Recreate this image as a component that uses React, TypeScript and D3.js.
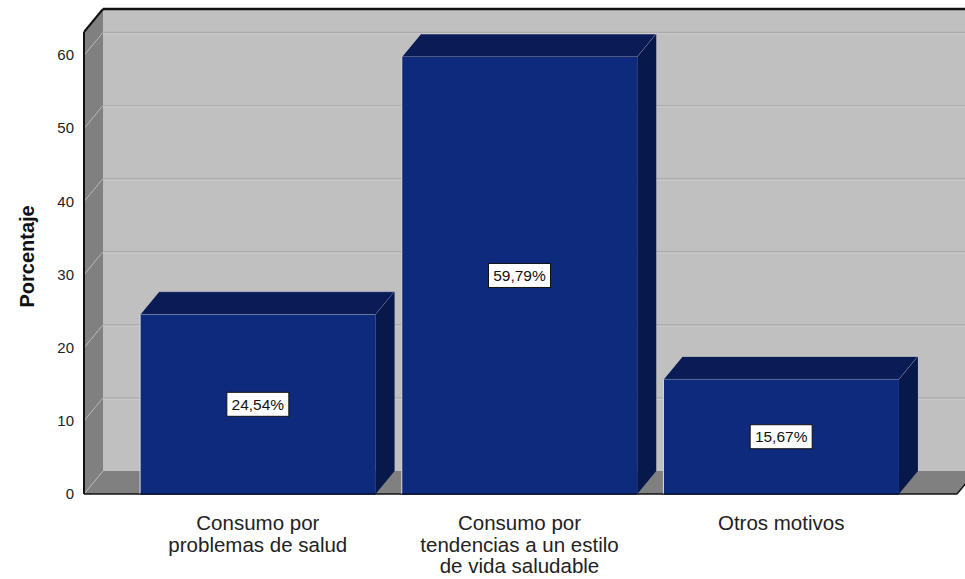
import React from "react";
import * as d3 from "d3";

const categories = [
  ["Consumo por", "problemas de salud"],
  ["Consumo por", "tendencias a un estilo", "de vida saludable"],
  ["Otros motivos"],
];
const values = [24.54, 59.79, 15.67];
const valueLabels = ["24,54%", "59,79%", "15,67%"];
const yTicks = [0, 10, 20, 30, 40, 50, 60];
const yTitle = "Porcentaje";

const W = 965;
const H = 579;
const DX = 19;
const DY = -23;
const FRONT_LEFT = 84;
const FRONT_RIGHT = 957;
const BASE = 494;

export default function App() {
  const y = d3.scaleLinear().domain([0, 63.2]).range([BASE, 32]);
  const keys = categories.map((c) => c.join(" "));
  const x = d3
    .scaleBand<string>()
    .domain(keys)
    .range([127, 912])
    .paddingInner(0.1)
    .paddingOuter(0.05);
  const bw = x.bandwidth();
  const top = y(63.2);
  const font = "'Liberation Sans', Arial, sans-serif";

  return (
    <svg
      width={W}
      height={H}
      style={{ position: "absolute", left: 0, top: 0, background: "#fff" }}
      fontFamily={font}
    >
      {/* back wall */}
      <rect
        x={FRONT_LEFT + DX}
        y={top + DY}
        width={FRONT_RIGHT - FRONT_LEFT + 10}
        height={BASE - top}
        fill="#c0c0c0"
      />
      {/* left wall */}
      <polygon
        points={`${FRONT_LEFT},${top} ${FRONT_LEFT + DX},${top + DY} ${FRONT_LEFT + DX},${BASE + DY} ${FRONT_LEFT},${BASE}`}
        fill="#808080"
      />
      {/* floor */}
      <polygon
        points={`${FRONT_LEFT},${BASE} ${FRONT_LEFT + DX},${BASE + DY} ${FRONT_RIGHT + DX},${BASE + DY} ${FRONT_RIGHT},${BASE}`}
        fill="#808080"
      />
      {/* gridlines */}
      {yTicks.map((t) => (
        <g key={t}>
          {t > 0 && (
            <>
              <line
                x1={FRONT_LEFT + DX}
                x2={W}
                y1={y(t) + DY}
                y2={y(t) + DY}
                stroke="#ababab"
                strokeWidth={1.2}
              />
              <line
                x1={FRONT_LEFT + DX}
                x2={W}
                y1={y(t) + DY + 1.5}
                y2={y(t) + DY + 1.5}
                stroke="#cacaca"
                strokeWidth={1}
              />
            </>
          )}
          <line
            x1={FRONT_LEFT}
            y1={y(t)}
            x2={FRONT_LEFT + DX}
            y2={y(t) + DY}
            stroke="#b8b8b8"
            strokeWidth={1}
          />
          <text
            x={74}
            y={y(t) + 5}
            textAnchor="end"
            fontSize={15}
            fill="#222"
          >
            {t}
          </text>
        </g>
      ))}
      {/* back wall top edge */}
      <line
        x1={FRONT_LEFT + DX}
        x2={W}
        y1={top + DY}
        y2={top + DY}
        stroke="#111"
        strokeWidth={2.5}
      />
      <line
        x1={FRONT_LEFT}
        y1={top}
        x2={FRONT_LEFT + DX}
        y2={top + DY}
        stroke="#111"
        strokeWidth={2}
      />
      <line
        x1={FRONT_LEFT}
        y1={top}
        x2={FRONT_LEFT}
        y2={BASE}
        stroke="#111"
        strokeWidth={2}
      />
      <line
        x1={FRONT_LEFT}
        y1={BASE}
        x2={FRONT_RIGHT}
        y2={BASE}
        stroke="#111"
        strokeWidth={1.5}
      />
      <line
        x1={FRONT_RIGHT}
        y1={BASE}
        x2={FRONT_RIGHT + DX}
        y2={BASE + DY}
        stroke="#111"
        strokeWidth={1.5}
      />
      {/* bars */}
      {values.map((v, i) => {
        const x0 = x(keys[i])!;
        const x1 = x0 + bw;
        const yt = y(v);
        return (
          <g key={i}>
            <polygon
              points={`${x0},${yt} ${x0 + DX},${yt + DY} ${x1 + DX},${yt + DY} ${x1},${yt}`}
              fill="#091c55"
              stroke="#dcdcdc"
              strokeWidth={0.6}
            />
            <polygon
              points={`${x1},${yt} ${x1 + DX},${yt + DY} ${x1 + DX},${BASE + DY} ${x1},${BASE}`}
              fill="#07184a"
            />
            <rect
              x={x0}
              y={yt}
              width={bw}
              height={BASE - yt}
              fill="#0d2a7c"
            />
            <line
              x1={x0}
              x2={x0}
              y1={yt}
              y2={BASE}
              stroke="#d8dce8"
              strokeWidth={1}
            />
            <line
              x1={x0}
              x2={x1}
              y1={BASE}
              y2={BASE}
              stroke="#07123a"
              strokeWidth={1.5}
            />
          </g>
        );
      })}
      {/* value labels */}
      {values.map((v, i) => {
        const cx = x(keys[i])! + bw / 2;
        const cy = y(v / 2);
        const w = 62;
        return (
          <g key={"l" + i}>
            <rect
              x={cx - w / 2}
              y={cy - 12}
              width={w}
              height={24}
              fill="#fff"
              stroke="#111"
              strokeWidth={1}
            />
            <text
              x={cx}
              y={cy + 5.5}
              textAnchor="middle"
              fontSize={15.5}
              fill="#111"
            >
              {valueLabels[i]}
            </text>
          </g>
        );
      })}
      {/* category labels */}
      {categories.map((lines, i) => {
        const cx = x(keys[i])! + bw / 2;
        return (
          <text
            key={"c" + i}
            textAnchor="middle"
            fontSize={20.5}
            fill="#222"
          >
            {lines.map((l, j) => (
              <tspan key={j} x={cx} y={530 + j * 21.5}>
                {l}
              </tspan>
            ))}
          </text>
        );
      })}
      {/* y title */}
      <text
        transform={`translate(34,${y(32.5)}) rotate(-90)`}
        textAnchor="middle"
        fontSize={20}
        fontWeight="bold"
        fill="#111"
      >
        {yTitle}
      </text>
    </svg>
  );
}
